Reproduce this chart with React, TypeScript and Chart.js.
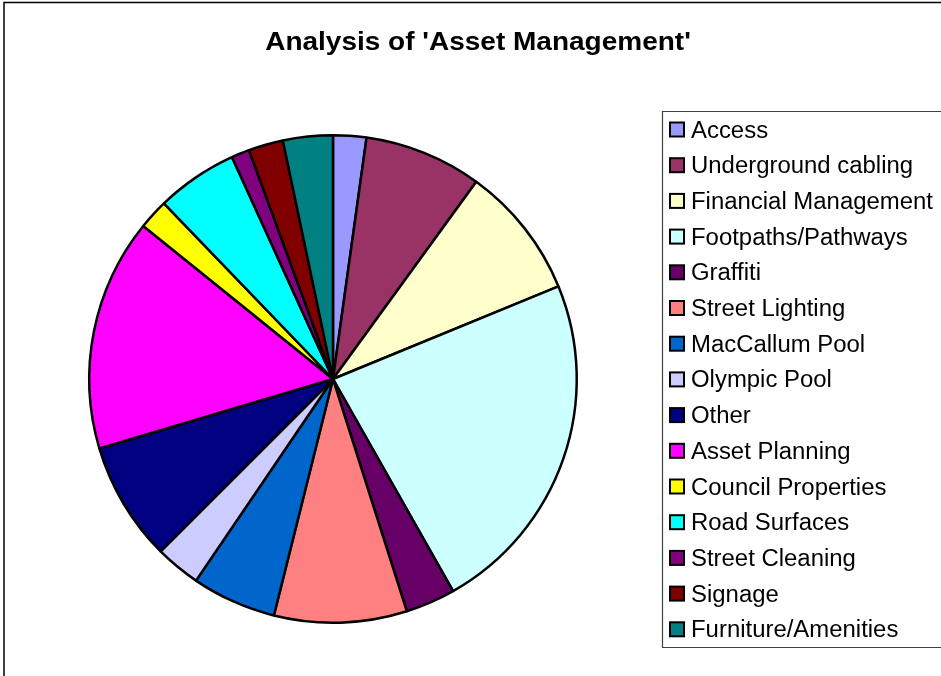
import React, { useEffect, useRef } from "react";
import { Chart, registerables } from "chart.js";

Chart.register(...registerables);

const TITLE = "Analysis of 'Asset Management'";

const categories = [
  "Access",
  "Underground cabling",
  "Financial Management",
  "Footpaths/Pathways",
  "Graffiti",
  "Street Lighting",
  "MacCallum Pool",
  "Olympic Pool",
  "Other",
  "Asset Planning",
  "Council Properties",
  "Road Surfaces",
  "Street Cleaning",
  "Signage",
  "Furniture/Amenities",
];

const values = [2.2, 7.8, 8.8, 23.0, 3.3, 8.8, 5.6, 3.0, 7.9, 15.4, 2.0, 5.4, 1.2, 2.3, 3.3];

const colors = [
  "#9999FF",
  "#993366",
  "#FFFFCC",
  "#CCFFFF",
  "#660066",
  "#FF8080",
  "#0066CC",
  "#CCCCFF",
  "#000080",
  "#FF00FF",
  "#FFFF00",
  "#00FFFF",
  "#800080",
  "#800000",
  "#008080",
];

const FONT = "'Liberation Sans', Arial, Helvetica, sans-serif";

const decorPlugin = {
  id: "decor",
  afterDraw(chart: any) {
    const ctx = chart.ctx as CanvasRenderingContext2D;
    const W = chart.width;
    const H = chart.height;
    ctx.save();
    // outer frame (only left and top edges visible)
    ctx.strokeStyle = "#000";
    ctx.lineWidth = 1.5;
    ctx.beginPath();
    ctx.moveTo(4, H + 5);
    ctx.lineTo(4, 2.5);
    ctx.lineTo(W + 5, 2.5);
    ctx.stroke();

    // title
    ctx.fillStyle = "#000";
    ctx.font = `bold 25px ${FONT}`;
    ctx.textAlign = "center";
    ctx.textBaseline = "alphabetic";
    ctx.save();
    ctx.translate(478, 49.5);
    ctx.scale(1.12, 1);
    ctx.fillText(TITLE, 0, 0);
    ctx.restore();

    // legend box
    ctx.strokeStyle = "#404040";
    ctx.lineWidth = 1.2;
    ctx.beginPath();
    ctx.moveTo(W + 5, 111.5);
    ctx.lineTo(662.5, 111.5);
    ctx.lineTo(662.5, 647.5);
    ctx.lineTo(W + 5, 647.5);
    ctx.stroke();

    const labels = chart.data.labels as string[];
    const bg = chart.data.datasets[0].backgroundColor as string[];
    const rowH = 35.7;
    ctx.font = `23px ${FONT}`;
    ctx.textAlign = "left";
    labels.forEach((lab, i) => {
      const baseline = 137.5 + i * rowH;
      ctx.fillStyle = bg[i];
      ctx.fillRect(670, baseline - 15, 14, 14);
      ctx.strokeStyle = "#000";
      ctx.lineWidth = 2;
      ctx.strokeRect(670, baseline - 15, 14, 14);
      ctx.fillStyle = "#000";
      ctx.save();
      ctx.translate(691, baseline);
      ctx.scale(1.04, 1);
      ctx.fillText(lab, 0, 0);
      ctx.restore();
    });
    ctx.restore();
  },
};

export default function App() {
  const ref = useRef<HTMLCanvasElement | null>(null);
  useEffect(() => {
    if (!ref.current) return;
    const chart = new Chart(ref.current, {
      type: "pie",
      data: {
        labels: categories,
        datasets: [
          {
            data: values,
            backgroundColor: colors,
            borderColor: "#000",
            borderWidth: 2.5,
          },
        ],
      },
      options: {
        responsive: false,
        animation: false,
        layout: { padding: { left: 88, right: 363, top: 134, bottom: 52 } },
        plugins: {
          legend: { display: false },
          title: { display: false },
          tooltip: { enabled: false },
        },
      },
      plugins: [decorPlugin],
    });
    return () => chart.destroy();
  }, []);
  return (
    <div style={{ position: "absolute", left: 0, top: 0, width: 941, height: 676, background: "#fff" }}>
      <canvas ref={ref} width={941} height={676} style={{ display: "block" }} />
    </div>
  );
}
